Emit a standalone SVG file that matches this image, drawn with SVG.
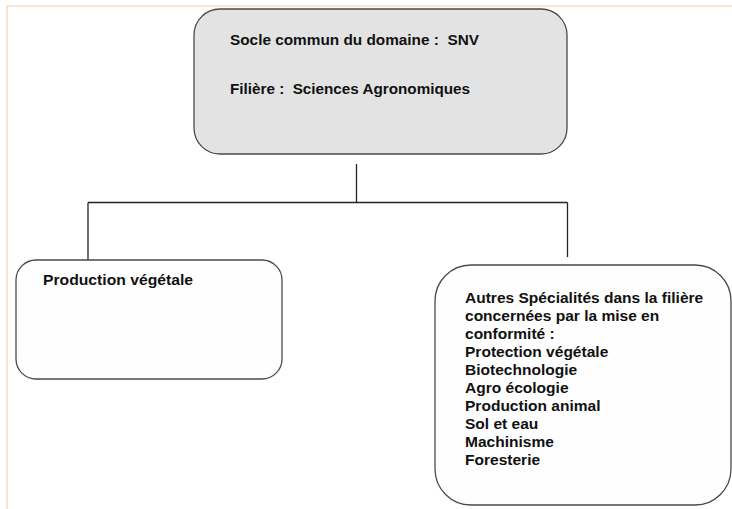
<svg xmlns="http://www.w3.org/2000/svg" width="732" height="509" viewBox="0 0 732 509">
<style>
.frame{stroke:#fbe3d2;stroke-width:2;fill:none}
.box{stroke:#4a4a4a;stroke-width:1.3}
.conn{stroke:#222;stroke-width:1.3;fill:none}
text{font-family:"Liberation Sans",Arial,sans-serif;font-weight:bold;font-size:14px;fill:#111;white-space:pre}
</style>
<rect width="732" height="509" fill="#ffffff"/>
<path class="frame" d="M7 509 V6 H732"/>
<g id="connectors">
<line class="conn" x1="356.5" y1="164" x2="356.5" y2="202.5"/>
<line class="conn" x1="88" y1="202.5" x2="567.5" y2="202.5"/>
<line class="conn" x1="88" y1="202.5" x2="88" y2="260"/>
<line class="conn" x1="567.5" y1="202.5" x2="567.5" y2="257"/>
</g>
<g id="node-socle">
<rect class="box" x="194" y="9" width="373" height="145" rx="26" ry="26" fill="#e3e3e3"/>
<text x="230" y="45" textLength="249" lengthAdjust="spacingAndGlyphs">Socle commun du domaine :  SNV</text>
<text x="230" y="94" textLength="240" lengthAdjust="spacingAndGlyphs">Filière :  Sciences Agronomiques</text>
</g>
<g id="node-production">
<rect class="box" x="16" y="260" width="266" height="119" rx="20" ry="20" fill="#fefefe"/>
<text x="43" y="285" textLength="150" lengthAdjust="spacingAndGlyphs">Production végétale</text>
</g>
<g id="node-autres">
<rect class="box" x="435" y="265" width="296" height="240" rx="36" ry="36" fill="#fefefe"/>
<g transform="translate(465 0) scale(1.11 1)">
<text x="0" y="303">Autres Spécialités dans la filière</text>
<text x="0" y="321">concernées par la mise en</text>
<text x="0" y="339">conformité :</text>
<text x="0" y="357">Protection végétale</text>
<text x="0" y="375">Biotechnologie</text>
<text x="0" y="393">Agro écologie</text>
<text x="0" y="411">Production animal</text>
<text x="0" y="429">Sol et eau</text>
<text x="0" y="447">Machinisme</text>
<text x="0" y="465">Foresterie</text>
</g>
</g>
</svg>
